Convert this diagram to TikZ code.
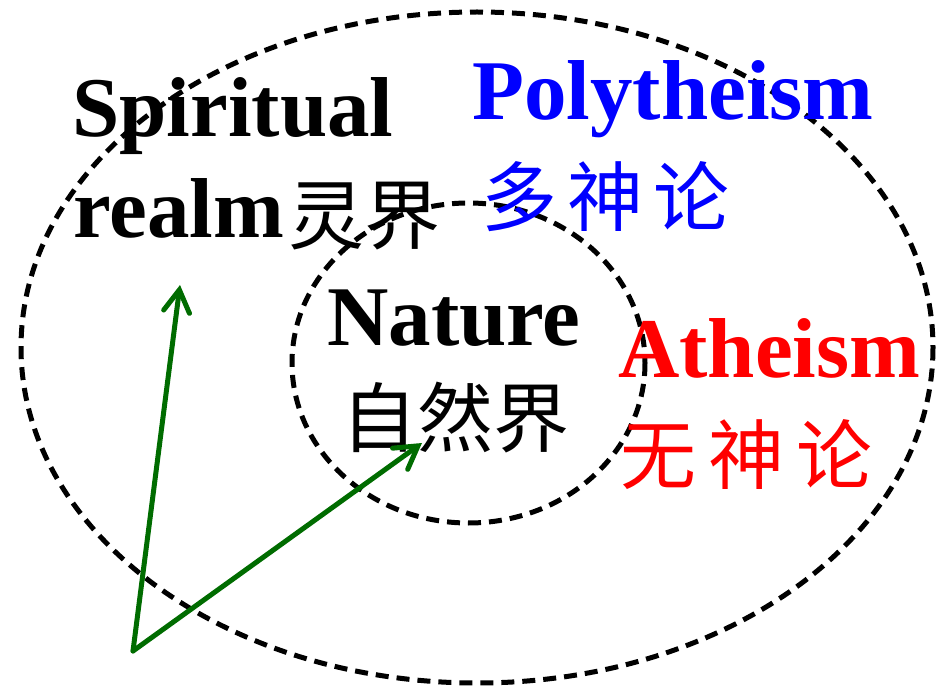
\documentclass[tikz,border=0pt]{standalone}
\usepackage{fontspec}
\setmainfont{Liberation Serif}
\newfontfamily\cjk{Noto Sans CJK SC}
\usetikzlibrary{arrows.meta}
\definecolor{arrgreen}{RGB}{0,108,0}
\begin{document}
\begin{tikzpicture}[x=1pt,y=-1pt,
  ring/.style={draw=black,line width=5pt,dash pattern=on 13pt off 8pt},
  en/.style={anchor=base west,inner sep=0pt,font=\fontsize{85}{90}\selectfont\bfseries},
  zh/.style={anchor=west,inner sep=0pt,font=\fontsize{76}{80}\selectfont\cjk},
  pointer/.style={draw=arrgreen,line width=5pt,line cap=round,-{Straight Barb[length=22pt,width=26pt,line cap=round]}}]
\useasboundingbox (0,0) rectangle (943,687);
\draw[ring] (477,347.5) ellipse [x radius=456,y radius=335.5];
\draw[ring] (468.5,363) ellipse [x radius=176.5,y radius=160];
\node[en] (spir) at (72,137) {Spiritual};
\node[en] (realm) at (73,238) {realm};
\node[zh] (lingjie) at (288,216) {灵界};
\node[en,text=blue] (poly) at (472,120) {Polytheism};
\node[zh,text=blue] (duo) at (481,197) {多\hspace{10pt}神\hspace{10pt}论};
\node[en] (nat) at (327,345) {Nature};
\node[zh] (ziran) at (341,418) {自然界};
\node[en,text=red] (athe) at (618,377) {Atheism};
\node[zh,text=red] (wu) at (620,455) {无\hspace{12pt}神\hspace{12pt}论};
\coordinate (o) at (133,651);
\coordinate (t1) at (180,285);
\coordinate (t2) at (422,443);
\draw[pointer] (o) -- (t1);
\draw[pointer] (o) -- (t2);
\end{tikzpicture}
\end{document}
